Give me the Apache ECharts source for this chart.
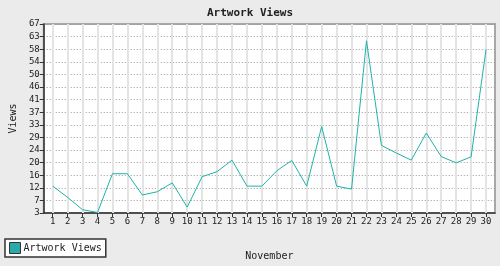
<!DOCTYPE html>
<html>
<head>
<meta charset="utf-8">
<script src="https://cdn.jsdelivr.net/npm/echarts@6/dist/echarts.min.js"></script>
<style>
html,body{margin:0;padding:0;background:#ebebeb;}
#c{width:500px;height:266px;}
</style>
</head>
<body>
<div id="c"></div>
<script>
const days = [1,2,3,4,5,6,7,8,9,10,11,12,13,14,15,16,17,18,19,20,21,22,23,24,25,26,27,28,29,30];
const views = [12.1,8.3,4.1,3.2,16.3,16.3,9.1,10.2,13.2,5.0,15.3,17.0,20.9,12.1,12.1,17.3,20.8,12.1,32.3,12.1,11.1,61.3,25.9,23.3,20.9,30.1,22.1,20.0,22.0,58.4];
const yMin = 3, yMax = 67, ySteps = 15;
const seriesName = 'Artwork Views';
const titleText = 'Artwork Views';
const xName = 'November';
const yName = 'Views';

const font = '"DejaVu Sans Mono", "Liberation Mono", monospace';
const chart = echarts.init(document.getElementById('c'), null, {renderer:'canvas'});
chart.setOption({
  backgroundColor: '#ebebeb',
  animation: false,
  title: {
    text: titleText, left: 'center', top: 3,
    textStyle: {fontFamily: font, fontSize: 11, fontWeight: 'bold', color: '#222'}
  },
  grid: {
    left: 34, right: 5, top: 24, bottom: 53,
    show: true, backgroundColor: '#ffffff', borderColor: '#a8a8a8', borderWidth: 2
  },
  legend: {
    left: 5, bottom: 9,
    data: [seriesName],
    icon: 'rect', itemWidth: 11, itemHeight: 11, itemGap: 0,
    padding: [3, 4, 3, 4],
    borderColor: '#333', borderWidth: 1.5, backgroundColor: '#ffffff',
    itemStyle: {color: '#2aaaa8', borderColor: '#333', borderWidth: 1},
    textStyle: {fontFamily: font, fontSize: 10, color: '#222', padding: [0,0,0,-2]}
  },
  xAxis: {
    type: 'value', min: 0.4, max: 30.6,
    name: xName, nameLocation: 'middle', nameGap: 38,
    nameTextStyle: {fontFamily: font, fontSize: 10, color: '#222'},
    axisLine: {show: true, onZero: false, lineStyle: {color: '#333', width: 1.5}},
    axisTick: {show: true, length: 4, customValues: days, lineStyle: {color: '#333'}},
    axisLabel: {customValues: days, fontFamily: font, fontSize: 9, color: '#222', margin: 4},
    splitLine: {show: false}
  },
  yAxis: {
    type: 'value', min: yMin, max: yMax, interval: (yMax - yMin) / ySteps,
    name: yName, nameLocation: 'middle', nameGap: 21, nameRotate: 90,
    nameTextStyle: {fontFamily: font, fontSize: 10, color: '#222'},
    axisLine: {show: true, lineStyle: {color: '#333', width: 1.5}},
    axisTick: {show: true, length: 4, lineStyle: {color: '#333'}},
    axisLabel: {fontFamily: font, fontSize: 9, color: '#222', margin: 4,
      formatter: v => String(Math.round(v))},
    splitLine: {show: true, lineStyle: {color: '#999', width: 1, type: [1, 2]}}
  },
  series: [{
    name: seriesName, type: 'line', z: 4,
    data: days.map((d, i) => [d, views[i]]),
    showSymbol: false, symbol: 'none',
    lineStyle: {color: '#20b2aa', width: 1},
    itemStyle: {color: '#20b2aa'},
    markLine: {
      silent: true, symbol: ['none', 'none'], animation: false, z: 2,
      label: {show: false},
      lineStyle: {color: '#e4e4e4', width: 2, type: 'solid'},
      emphasis: {disabled: true},
      data: days.map(d => ({xAxis: d}))
    }
  }]
});
</script>
</body>
</html>
